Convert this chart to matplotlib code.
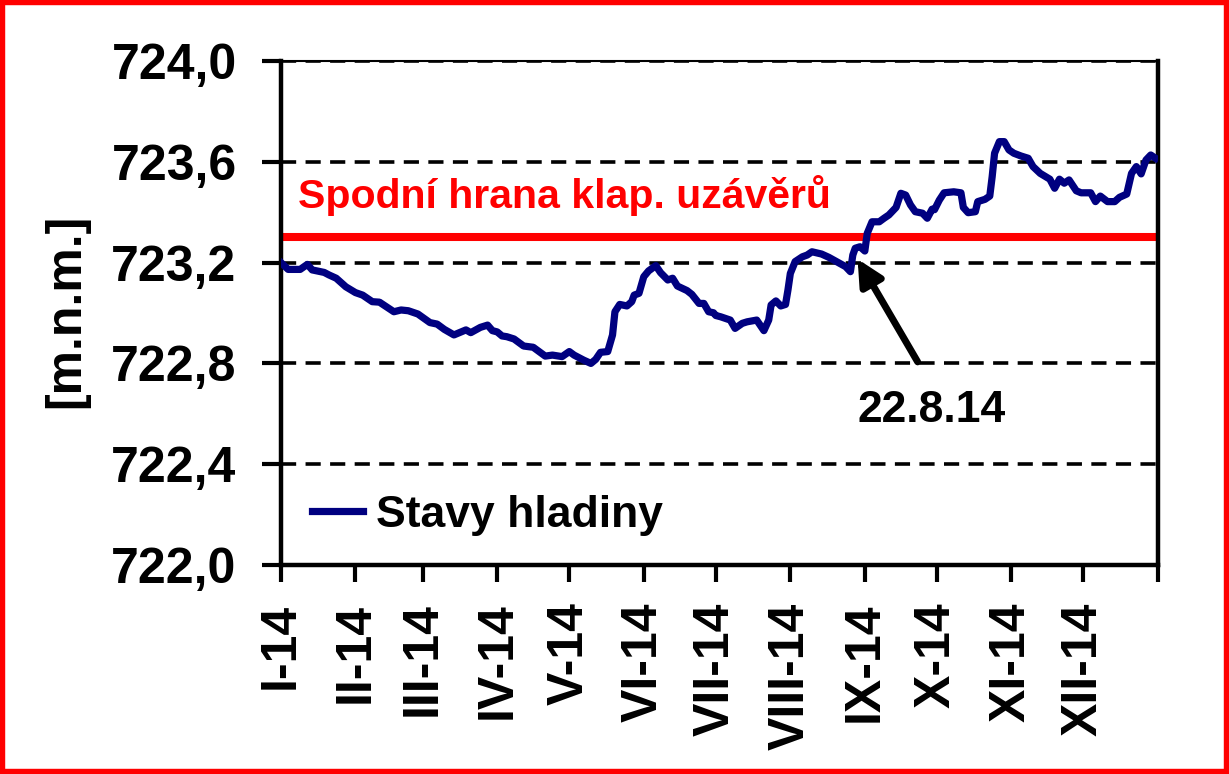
import matplotlib
matplotlib.use('Agg')
import matplotlib.pyplot as plt
import matplotlib.patches as patches
import numpy as np
import pandas as pd

plt.rcParams['font.family'] = ['Liberation Sans', 'DejaVu Sans']
plt.rcParams['font.weight'] = 'bold'

# water level 2014 (day of year, m a.s.l.)
days = [0, 3, 8, 11, 13, 18, 20, 23, 27, 31, 34, 38, 41, 47, 50, 53, 57, 62, 65, 68,
        72, 77, 79, 83, 86, 88, 90, 92, 94, 97, 101, 105, 110, 113, 117, 120, 122, 126, 129, 131,
        133, 136, 138, 139, 141, 144, 146, 147, 149, 151, 153, 156, 158, 161, 163, 165, 169, 171, 174, 176,
        178, 180, 181, 183, 187, 189, 192, 194, 198, 201, 203, 204, 206, 208, 210, 211, 212, 214, 217, 219,
        221, 225, 228, 232, 235, 237, 238, 239, 241, 243, 244, 246, 249, 251, 253, 256, 258, 260, 262, 264,
        267, 269, 271, 272, 274, 276, 280, 283, 284, 286, 289, 290, 293, 295, 296, 297, 299, 301, 303, 305,
        308, 311, 313, 316, 320, 322, 324, 326, 328, 331, 333, 337, 339, 341, 344, 347, 349, 352, 354, 356,
        358, 360, 362, 364]
levels = [723.200, 723.173, 723.173, 723.193, 723.171, 723.161, 723.151, 723.138, 723.104, 723.081,
          723.071, 723.045, 723.043, 723.005, 723.012, 723.009, 722.996, 722.962, 722.956, 722.935,
          722.913, 722.933, 722.922, 722.943, 722.952, 722.930, 722.925, 722.909, 722.906, 722.897,
          722.869, 722.864, 722.829, 722.833, 722.827, 722.847, 722.833, 722.813, 722.800, 722.816,
          722.844, 722.847, 722.913, 723.005, 723.034, 723.028, 723.045, 723.071, 723.078, 723.144,
          723.167, 723.188, 723.160, 723.131, 723.138, 723.107, 723.089, 723.074, 723.038, 723.038,
          723.005, 723.001, 722.990, 722.985, 722.972, 722.939, 722.959, 722.965, 722.972, 722.930,
          722.972, 723.032, 723.048, 723.028, 723.034, 723.091, 723.157, 723.204, 723.223, 723.230,
          723.243, 723.234, 723.221, 723.200, 723.184, 723.164, 723.230, 723.257, 723.263, 723.246,
          723.316, 723.362, 723.362, 723.376, 723.389, 723.419, 723.475, 723.468, 723.429, 723.402,
          723.396, 723.376, 723.412, 723.410, 723.448, 723.477, 723.481, 723.477, 723.419, 723.398,
          723.402, 723.442, 723.451, 723.464, 723.541, 723.634, 723.680, 723.680, 723.647, 723.634,
          723.623, 723.614, 723.581, 723.554, 723.531, 723.495, 723.531, 723.515, 723.528, 723.485,
          723.477, 723.477, 723.442, 723.464, 723.442, 723.442, 723.459, 723.472, 723.554, 723.581,
          723.552, 723.607, 723.627, 723.614]

month_labels = ['I-14', 'II-14', 'III-14', 'IV-14', 'V-14', 'VI-14', 'VII-14',
                'VIII-14', 'IX-14', 'X-14', 'XI-14', 'XII-14', '']
y_ticks = [722.0, 722.4, 722.8, 723.2, 723.6, 724.0]
hrana = 723.3
arrow_tip = 240
arrow_tail = 265

start = pd.Timestamp('2014-01-01')
dates = start + pd.to_timedelta(days, unit='D')

fig = plt.figure(figsize=(12.29, 7.74), dpi=100)
ax = fig.add_axes([0.2286, 0.27, 0.7136, 0.6512])

for yv in y_ticks[1:]:
    ax.axhline(yv, color='black', lw=2.6, ls=(0, (4.2, 2.6)), zorder=1)

ax.plot(dates, levels, color='#000080', lw=5.2, label='Stavy hladiny', zorder=3)
ax.axhline(hrana, color='#ff0000', lw=5.8, zorder=2)

ax.text(0.019, 0.708, 'Spodní hrana klap. uzávěrů', transform=ax.transAxes,
        color='#ff0000', fontsize=29.5, fontweight='bold', va='baseline', ha='left')

ax.annotate('', xy=(start + pd.Timedelta(days=arrow_tip), 723.214),
            xytext=(start + pd.Timedelta(days=arrow_tail), 722.806),
            arrowprops=dict(arrowstyle='-|>', lw=5, color='black',
                            mutation_scale=38, shrinkA=0, shrinkB=0), zorder=4)
ax.text(start + pd.Timedelta(days=271), 722.615, '22.8.14', fontsize=32,
        fontweight='bold', ha='center', va='center')

ax.set_xlim(start, pd.Timestamp('2015-01-01'))
ax.set_ylim(722.0, 724.0)
ticks = pd.date_range('2014-01-01', '2015-01-01', freq='MS')
ax.set_xticks(ticks)
ax.set_xticklabels(month_labels, rotation=90, fontsize=36, fontweight='bold')
ax.set_yticks(y_ticks)
ax.set_yticklabels([('%.1f' % v).replace('.', ',') for v in y_ticks],
                   fontsize=36, fontweight='bold')
ax.tick_params(axis='x', direction='out', length=12, width=3, pad=15)
ax.tick_params(axis='y', direction='out', length=14, width=3, pad=18)

for s in ['left', 'bottom', 'right']:
    ax.spines[s].set_linewidth(3.2)
ax.spines['top'].set_linewidth(1.5)

ax.legend(loc='center left', bbox_to_anchor=(0.035, 0.099), frameon=False,
          borderpad=0, borderaxespad=0, handlelength=1.15, handletextpad=0.3,
          prop={'size': 32, 'weight': 'bold'})

fig.text(0.054, 0.598, '[m.n.m.]', rotation=90, fontsize=36, fontweight='bold',
         ha='center', va='center')

fig.patches.append(patches.Rectangle((0, 0), 1, 1, transform=fig.transFigure,
                                     fill=False, edgecolor='#ff0000', lw=7.5))

plt.savefig('out.png', dpi=100)
